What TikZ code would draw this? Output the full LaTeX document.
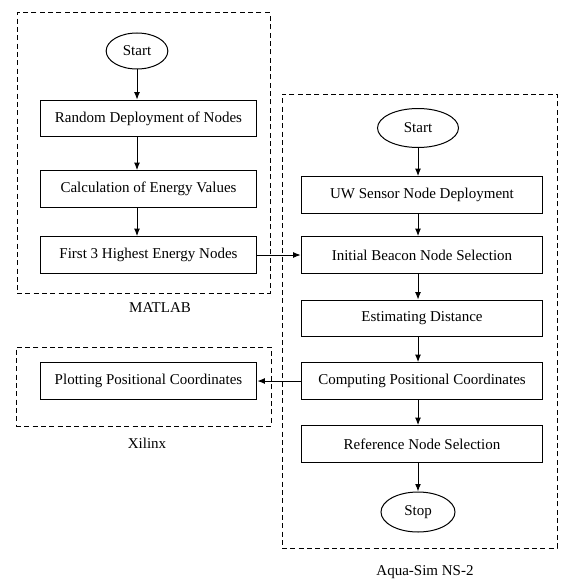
\documentclass[tikz,border=0pt]{standalone}
\usepackage{fontspec}
\setmainfont{Liberation Serif}
\usetikzlibrary{arrows.meta, positioning, shapes.geometric}

\begin{document}
\begin{tikzpicture}[x=0.6pt, y=-0.6pt, >={Latex[length=4.5pt, width=3.5pt]},
    font=\fontsize{9}{11}\selectfont,
    process/.style={draw, line width=0.6pt, minimum width=130pt, minimum height=22pt, inner sep=0pt},
    terminal/.style={draw, ellipse, line width=0.6pt, inner sep=0pt},
    group/.style={draw, dash pattern=on 3pt off 2pt, line width=0.6pt, inner sep=0pt, outer sep=0pt},
    flow/.style={->, line width=0.6pt}]
				\useasboundingbox (0,0) rectangle (563,581);

				% groups
				\node [group, minimum width=151.8pt, minimum height=168pt] (matlabbox) at (143.5,153) {};
				\node [group, minimum width=165pt, minimum height=272.4pt] (aquabox) at (419.5,321) {};
				\node [group, minimum width=153pt, minimum height=47.4pt] (xilinxbox) at (143.5,386.5) {};
				\node (matlab) at (160,308) {MATLAB};
				\node (xilinx) at (147,443) {Xilinx};
				\node (aqua) at (425,572) {Aqua-Sim NS-2};

				% MATLAB
				\node [terminal, minimum width=37pt, minimum height=21.6pt] (start1) at (137,51) {Start};
				\node [process] (deploy) at (148.5,118.5) {Random Deployment of Nodes};
				\node [process] (energy) at (148.5,189) {Calculation of Energy Values};
				\node [process] (highest) at (148.5,255) {First 3 Highest Energy Nodes};

				% Xilinx
				\node [process] (plot) at (148.5,381) {Plotting Positional Coordinates};

				% Aqua-Sim
				\node [terminal, minimum width=48.6pt, minimum height=23.4pt] (start2) at (418,128) {Start};
				\node [process, minimum width=145pt] (uw) at (422,195) {UW Sensor Node Deployment};
				\node [process, minimum width=145pt] (beacon) at (422,255) {Initial Beacon Node Selection};
				\node [process, minimum width=145pt] (estimate) at (422,318.5) {Estimating Distance};
				\node [process, minimum width=145pt] (compute) at (422,381) {Computing Positional Coordinates};
				\node [process, minimum width=145pt] (reference) at (422,444) {Reference Node Selection};
				\node [terminal, minimum width=44.4pt, minimum height=24pt] (stop) at (418,512) {Stop};

				\draw [flow] (start1) -- (start1 |- deploy.north);
				\draw [flow] (deploy.south -| start1) -- (energy.north -| start1);
				\draw [flow] (energy.south -| start1) -- (highest.north -| start1);
				\draw [flow] (highest) -- (beacon);

				\draw [flow] (start2) -- (start2 |- uw.north);
				\draw [flow] (uw.south -| start2) -- (beacon.north -| start2);
				\draw [flow] (beacon.south -| start2) -- (estimate.north -| start2);
				\draw [flow] (estimate.south -| start2) -- (compute.north -| start2);
				\draw [flow] (compute.south -| start2) -- (reference.north -| start2);
				\draw [flow] (reference.south -| stop) -- (stop);
				\draw [flow] (compute) -- (plot);
			\end{tikzpicture}
\end{document}
